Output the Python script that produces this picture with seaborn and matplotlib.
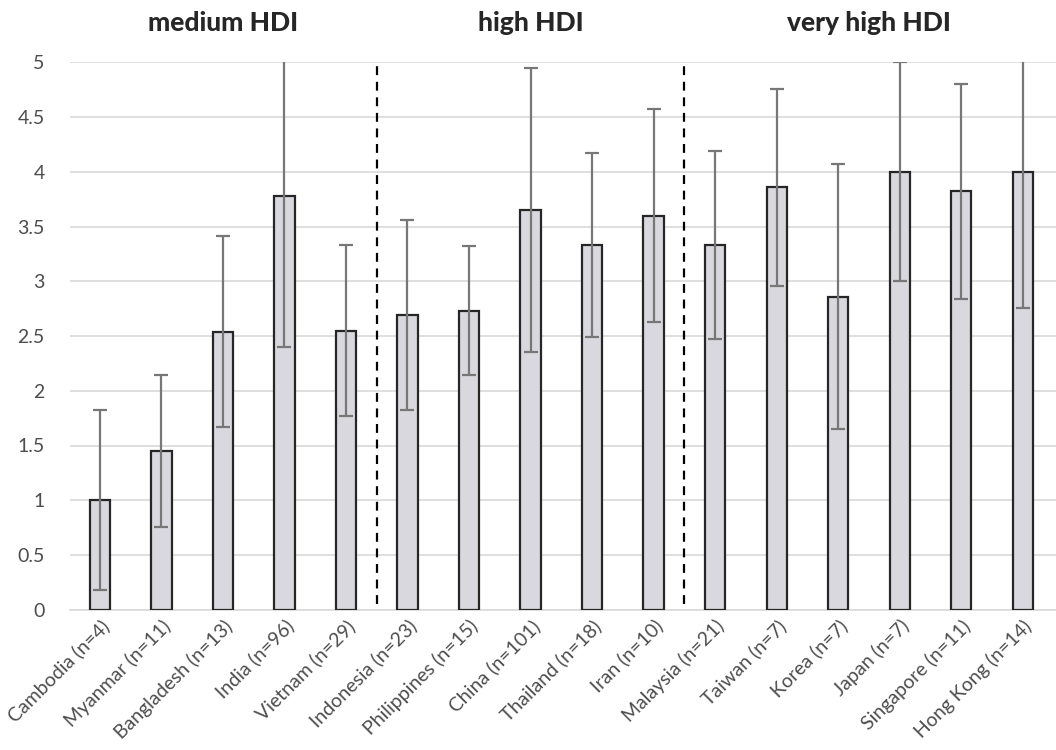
import numpy as np
import pandas as pd
import matplotlib
matplotlib.use("Agg")
import matplotlib.pyplot as plt
import seaborn as sns

# dados
paises = ['Cambodia (n=4)', 'Myanmar (n=11)', 'Bangladesh (n=13)', 'India (n=96)',
          'Vietnam (n=29)', 'Indonesia (n=23)', 'Philippines (n=15)', 'China (n=101)',
          'Thailand (n=18)', 'Iran (n=10)', 'Malaysia (n=21)', 'Taiwan (n=7)',
          'Korea (n=7)', 'Japan (n=7)', 'Singapore (n=11)', 'Hong Kong (n=14)']
medias = [1.00, 1.45, 2.54, 3.78, 2.55, 2.69, 2.73, 3.65, 3.33, 3.60,
          3.33, 3.86, 2.86, 4.00, 3.82, 4.00]
desvios = [0.82, 0.69, 0.87, 1.38, 0.78, 0.87, 0.59, 1.30, 0.84, 0.97,
           0.86, 0.90, 1.21, 1.00, 0.98, 1.24]
grupos = ['medium HDI', 'high HDI', 'very high HDI']
tamanho_grupo = [5, 5, 6]

df = pd.DataFrame({'Pais': paises, 'Media': medias, 'DP': desvios})

sns.set_theme(style="white")
plt.rcParams['font.family'] = ['Lato', 'DejaVu Sans']

fig = plt.figure(figsize=(10.56, 7.5), dpi=100)
ax = fig.add_axes([0.066, 0.187, 0.934, 0.730])

sns.barplot(data=df, x='Pais', y='Media', color='#d8d8de', edgecolor='#262626',
            linewidth=1.6, width=0.33, saturation=1, errorbar=None, ax=ax, zorder=3)

ax.errorbar(np.arange(len(paises)), df['Media'], yerr=df['DP'], fmt='none',
            ecolor='#777777', elinewidth=1.6, capsize=5, capthick=1.6, zorder=4)

ax.set_ylim(0, 5)
ax.set_xlim(-0.49, 15.54)
ax.set_yticks(np.arange(0, 5.01, 0.5))
ax.set_yticklabels([f"{v:g}" for v in np.arange(0, 5.01, 0.5)], fontsize=14, color='#4d4d4d')
ax.yaxis.grid(True, color='#d9d9d9', linewidth=1.2, zorder=0)
ax.set_axisbelow(True)
ax.tick_params(axis='y', length=0, pad=18)
ax.tick_params(axis='x', length=0, pad=5)
ax.set_xticks(np.arange(len(paises)))
ax.set_xticklabels(paises, rotation=45, ha='right', rotation_mode='anchor',
                   fontsize=14, color='#4d4d4d')
for s in ['top', 'right', 'left']:
    ax.spines[s].set_visible(False)
ax.spines['bottom'].set_color('#d9d9d9')
ax.spines['bottom'].set_linewidth(1.2)
ax.set_xlabel('')
ax.set_ylabel('')

# separadores e títulos dos grupos
inicio = 0
for i, (g, n) in enumerate(zip(grupos, tamanho_grupo)):
    fim = inicio + n - 1
    ax.text((inicio + fim) / 2, 1.071, g, transform=ax.get_xaxis_transform(),
            ha='center', va='center', fontsize=19, fontweight='black', color='#262626')
    if i < len(grupos) - 1:
        ax.axvline(fim + 0.5, ymin=0.01, ymax=1.0, color='black', linestyle=(0, (4, 3)),
                   linewidth=1.6, zorder=5)
    inicio = fim + 1

fig.savefig('out.png', dpi=100)
